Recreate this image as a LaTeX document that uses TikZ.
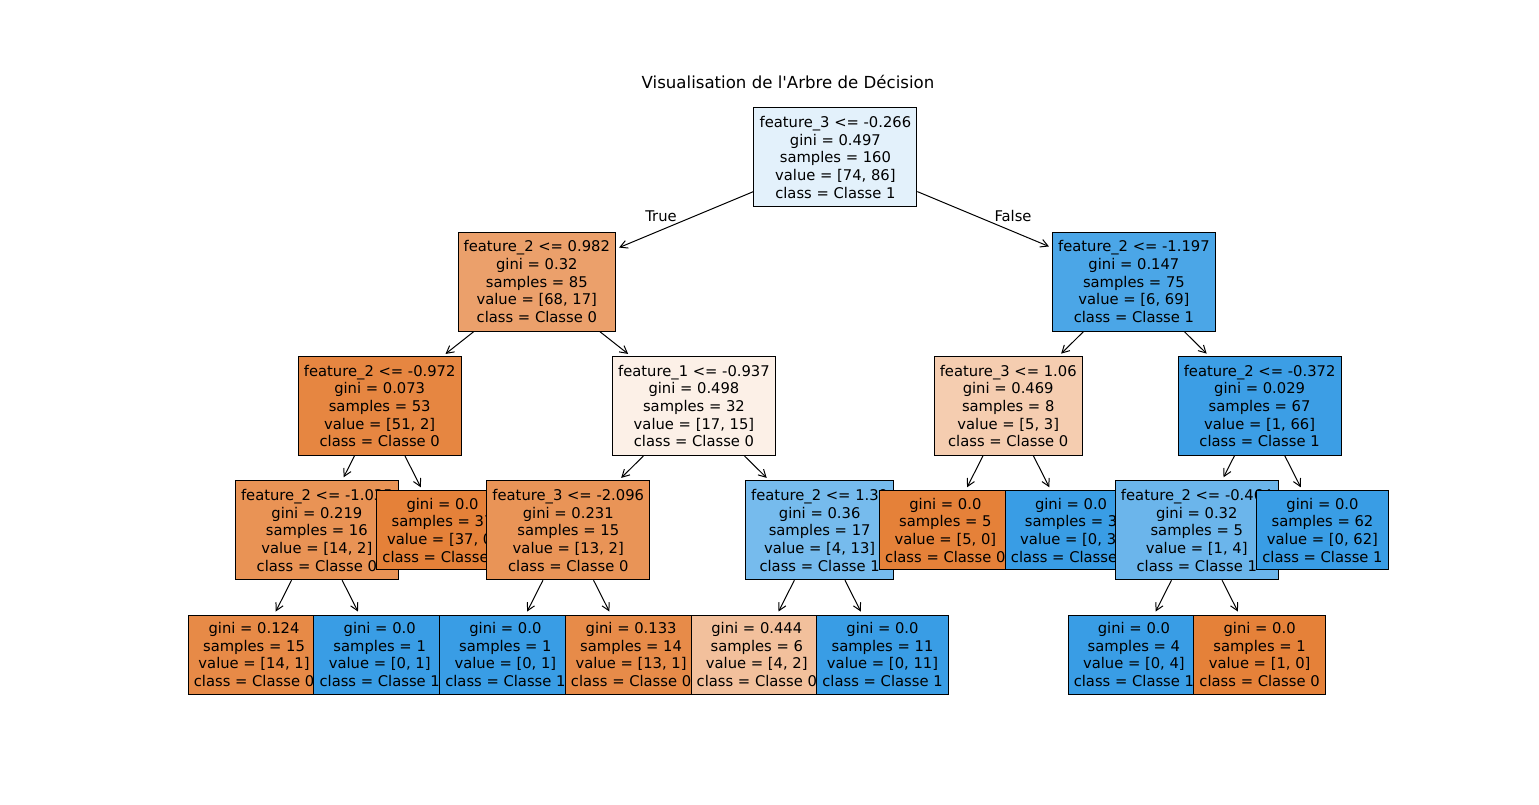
\documentclass[tikz,border=0pt]{standalone}
\usepackage{fontspec}
\newfontfamily\dv{DejaVu Sans}
\usetikzlibrary{arrows.meta}
\definecolor{cz}{RGB}{229,129,57}
\definecolor{co}{RGB}{57,157,229}
\begin{document}
\begin{tikzpicture}[x=0.75pt,y=-0.75pt,
  box/.style={draw=black, line width=0.75pt, align=center, inner xsep=4.2pt, inner ysep=0pt,
    font=\dv\fontsize{11.06pt}{13.28pt}\selectfont},
  big/.style={box, minimum height=74.25pt},
  small/.style={box, minimum height=59.25pt},
  arr/.style={-{Straight Barb[length=5.5pt,width=6pt]}, line width=0.75pt, shorten >=2.5pt},
  lab/.style={font=\dv\fontsize{11.06pt}{13.28pt}\selectfont, inner sep=0pt}]
\useasboundingbox (0,0) rectangle (1539,805);
\node[font=\dv\fontsize{12.45pt}{15pt}\selectfont, inner sep=0pt] (title) at (788,82) {Visualisation de l'Arbre de Décision};
% root
\node[big, fill=co!14!white] (r) at (835.4,157.5) {feature\_3 <= -0.266\\gini = 0.497\\samples = 160\\value = [74, 86]\\class = Classe 1};
% left subtree
\node[big, fill=cz!75!white] (n1) at (536.8,281.75) {feature\_2 <= 0.982\\gini = 0.32\\samples = 85\\value = [68, 17]\\class = Classe 0};
\draw[arr] (r) -- (n1);
\node[big, fill=cz!96!white] (n3) at (379.7,406) {feature\_2 <= -0.972\\gini = 0.073\\samples = 53\\value = [51, 2]\\class = Classe 0};
\draw[arr] (n1) -- (n3);
\node[big, fill=cz!86!white] (n7) at (316.85,530.25) {feature\_2 <= -1.035\\gini = 0.219\\samples = 16\\value = [14, 2]\\class = Classe 0};
\draw[arr] (n3) -- (n7);
\node[small, fill=cz!93!white] (l1) at (254,654.5) {gini = 0.124\\samples = 15\\value = [14, 1]\\class = Classe 0};
\draw[arr] (n7) -- (l1);
\node[small, fill=co] (l2) at (379.7,654.5) {gini = 0.0\\samples = 1\\value = [0, 1]\\class = Classe 1};
\draw[arr] (n7) -- (l2);
\node[small, fill=cz] (l37) at (442.55,530.25) {gini = 0.0\\samples = 37\\value = [37, 0]\\class = Classe 0};
\draw[arr] (n3) -- (l37);
\node[big, fill=cz!12!white] (n4) at (693.95,406) {feature\_1 <= -0.937\\gini = 0.498\\samples = 32\\value = [17, 15]\\class = Classe 0};
\draw[arr] (n1) -- (n4);
\node[big, fill=cz!85!white] (n8) at (568.25,530.25) {feature\_3 <= -2.096\\gini = 0.231\\samples = 15\\value = [13, 2]\\class = Classe 0};
\draw[arr] (n4) -- (n8);
\node[small, fill=co] (l3) at (505.4,654.5) {gini = 0.0\\samples = 1\\value = [0, 1]\\class = Classe 1};
\draw[arr] (n8) -- (l3);
\node[small, fill=cz!92!white] (l4) at (631.1,654.5) {gini = 0.133\\samples = 14\\value = [13, 1]\\class = Classe 0};
\draw[arr] (n8) -- (l4);
\node[big, fill=co!69!white] (n9) at (819.65,530.25) {feature\_2 <= 1.39\\gini = 0.36\\samples = 17\\value = [4, 13]\\class = Classe 1};
\draw[arr] (n4) -- (n9);
\node[small, fill=cz!50!white] (l5) at (756.8,654.5) {gini = 0.444\\samples = 6\\value = [4, 2]\\class = Classe 0};
\draw[arr] (n9) -- (l5);
\node[small, fill=co] (l6) at (882.5,654.5) {gini = 0.0\\samples = 11\\value = [0, 11]\\class = Classe 1};
\draw[arr] (n9) -- (l6);
% right subtree
\node[big, fill=co!91!white] (n2) at (1133.9,281.75) {feature\_2 <= -1.197\\gini = 0.147\\samples = 75\\value = [6, 69]\\class = Classe 1};
\draw[arr] (r) -- (n2);
\node[big, fill=cz!40!white] (n5) at (1008.2,406) {feature\_3 <= 1.06\\gini = 0.469\\samples = 8\\value = [5, 3]\\class = Classe 0};
\draw[arr] (n2) -- (n5);
\node[small, fill=cz] (l7) at (945.35,530.25) {gini = 0.0\\samples = 5\\value = [5, 0]\\class = Classe 0};
\draw[arr] (n5) -- (l7);
\node[small, fill=co] (l8) at (1071.05,530.25) {gini = 0.0\\samples = 3\\value = [0, 3]\\class = Classe 1};
\draw[arr] (n5) -- (l8);
\node[big, fill=co!98.5!white] (n6) at (1259.6,406) {feature\_2 <= -0.372\\gini = 0.029\\samples = 67\\value = [1, 66]\\class = Classe 1};
\draw[arr] (n2) -- (n6);
\node[big, fill=co!75!white] (n10) at (1196.75,530.25) {feature\_2 <= -0.464\\gini = 0.32\\samples = 5\\value = [1, 4]\\class = Classe 1};
\draw[arr] (n6) -- (n10);
\node[small, fill=co] (l9) at (1133.9,654.5) {gini = 0.0\\samples = 4\\value = [0, 4]\\class = Classe 1};
\draw[arr] (n10) -- (l9);
\node[small, fill=cz] (l10) at (1259.6,654.5) {gini = 0.0\\samples = 1\\value = [1, 0]\\class = Classe 0};
\draw[arr] (n10) -- (l10);
\node[small, fill=co] (l11) at (1322.45,530.25) {gini = 0.0\\samples = 62\\value = [0, 62]\\class = Classe 1};
\draw[arr] (n6) -- (l11);
% edge labels
\node[lab] (tl) at (661,216) {True};
\node[lab] (fl) at (1013,216) {False};
\end{tikzpicture}
\end{document}
